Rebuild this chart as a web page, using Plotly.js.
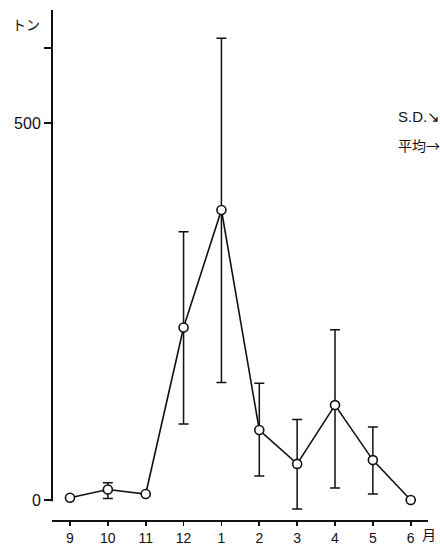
<!DOCTYPE html>
<html>
<head>
<meta charset="utf-8">
<script src="https://cdn.plot.ly/plotly-3.0.1.min.js"></script>
<style>html,body{margin:0;padding:0;background:#fff;}#chart{width:440px;height:547px;}</style>
</head>
<body>
<div id="chart"></div>
<script>
const months = ["9","10","11","12","1","2","3","4","5","6"];
const meanTons = [3, 14, 8, 229, 385, 93, 48, 126, 53, 0];
const sdPlus = [0, 9, 0, 127, 228, 62, 59, 100, 44, 0];
const sdMinus = [0, 12, 0, 128, 229, 61, 60, 110, 45, 0];
const yTickVals = [0, 500, 600];
const yTickText = ["0", "500", ""];

const xFont = {family: "Liberation Sans, DejaVu Sans, sans-serif", size: 14, color: "#111"};
const yFont = {family: "Liberation Sans, DejaVu Sans, sans-serif", size: 16, color: "#111"};

const trace = {
  x: months,
  y: meanTons,
  type: "scatter",
  mode: "lines+markers",
  line: {color: "#111", width: 1.6},
  marker: {symbol: "circle", size: 9, color: "#fff", line: {color: "#111", width: 1.6}},
  error_y: {type: "data", symmetric: false, array: sdPlus, arrayminus: sdMinus,
            color: "#111", thickness: 1.5, width: 5},
  cliponaxis: false,
  showlegend: false
};

const layout = {
  width: 440, height: 547,
  margin: {l: 52, r: 12, t: 10, b: 27},
  paper_bgcolor: "#fff", plot_bgcolor: "#fff",
  font: xFont,
  xaxis: {
    type: "category", range: [-0.475, 9.456],
    showline: true, linecolor: "#111", linewidth: 2,
    ticks: "outside", ticklen: 4, tickwidth: 1.6, tickcolor: "#111",
    showgrid: false, zeroline: false, tickfont: xFont, fixedrange: true
  },
  yaxis: {
    range: [-26.5, 650.5],
    showline: false, showgrid: false, zeroline: false,
    tickvals: yTickVals, ticktext: yTickText,
    ticks: "outside", ticklen: 7, tickwidth: 1.8, tickcolor: "#111",
    tickfont: yFont, fixedrange: true
  },
  shapes: [
    {type: "line", xref: "paper", yref: "y", x0: 0, x1: 0, y0: -1.5, y1: 650.5,
     line: {color: "#111", width: 2}}
  ],
  annotations: [
    {text: "トン", xref: "paper", yref: "paper", x: -0.112, y: 0.972, xanchor: "left", yanchor: "middle",
     showarrow: false, font: {family: "Noto Sans CJK JP, sans-serif", size: 14, color: "#111"}},
    {text: "月", xref: "paper", yref: "paper", x: 1.027, y: -0.028, xanchor: "right", yanchor: "middle",
     showarrow: false, font: {family: "Noto Sans CJK JP, sans-serif", size: 14, color: "#111"}},
    {text: "S.D.↘", xref: "paper", yref: "paper", x: 0.915, y: 0.792, xanchor: "left", yanchor: "middle",
     showarrow: false, font: {family: "Liberation Sans, sans-serif", size: 15, color: "#111"}},
    {text: "平均→", xref: "paper", yref: "paper", x: 0.915, y: 0.735, xanchor: "left", yanchor: "middle",
     showarrow: false, font: {family: "Noto Sans CJK JP, sans-serif", size: 14, color: "#111"}}
  ]
};

Plotly.newPlot("chart", [trace], layout, {displayModeBar: false, staticPlot: true});
</script>
</body>
</html>
